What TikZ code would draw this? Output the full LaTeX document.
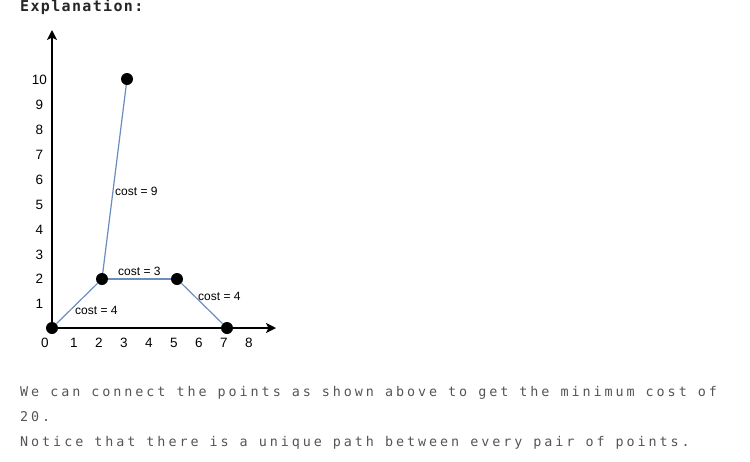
\documentclass[tikz,border=0pt]{standalone}
\usepackage{fontspec}
\setmainfont{Liberation Sans}
\newfontfamily\codefont[LetterSpace=22]{DejaVu Sans Mono}
\newfontfamily\headfont[LetterSpace=9]{DejaVu Sans Mono}
\usetikzlibrary{arrows.meta}
\definecolor{edgeblue}{HTML}{6C8EBF}
\definecolor{codegrey}{HTML}{555555}
\definecolor{headdark}{HTML}{262626}
\tikzset{
  dot/.style={circle,fill=black,draw=none,minimum size=12pt,inner sep=0pt},
  axis/.style={line width=1.4pt,-{Stealth[length=10pt,width=10pt,inset=2.5pt]}},
  edge/.style={edgeblue,line width=1.2pt},
  tick/.style={inner sep=0pt,font=\fontsize{13.5}{16}\selectfont},
  costlbl/.style={inner sep=0pt,anchor=base west,font=\fontsize{12}{14}\selectfont},
  codeline/.style={inner sep=0pt,anchor=base west,text=codegrey,font=\codefont\fontsize{13.4}{15}\selectfont},
  headline/.style={inner sep=0pt,anchor=base west,text=headdark,font=\headfont\bfseries\fontsize{15}{17}\selectfont}
}
\begin{document}
\begin{tikzpicture}[x=1pt,y=-1pt]
\useasboundingbox (0,0) rectangle (750,461);
% header
\node[headline] (head) at (20,11.5) {Explanation:};
% axes
\coordinate (orig) at (52,328);
\coordinate (ytip) at (52,30);
\coordinate (xtip) at (276,328);
\draw[axis] (orig) -- (ytip);
\draw[axis] (orig) -- (xtip);
% y tick labels
\foreach \v/\yy in {10/80,9/105,8/130,7/155,6/180,5/205,4/230,3/255,2/279,1/304}{
  \node[tick] (yl\v) at (39.5,\yy) {\v};
}
% x tick labels
\foreach \v/\xx in {0/45,1/74,2/99,3/124,4/149,5/174,6/199,7/224,8/249}{
  \node[tick,anchor=base] (xl\v) at (\xx,347) {\v};
}
% points
\node[dot] (p0) at (52,328) {};
\node[dot] (p1) at (102,279) {};
\node[dot] (p2) at (177,279) {};
\node[dot] (p3) at (227,328) {};
\node[dot] (p4) at (127,79) {};
% edges
\draw[edge] (p0) -- (p1);
\draw[edge] (p1) -- (p2);
\draw[edge] (p2) -- (p3);
\draw[edge] (p1) -- (p4);
% cost labels
\node[costlbl] (c9) at (115,195) {cost = 9};
\node[costlbl] (c3) at (118,275) {cost = 3};
\node[costlbl] (c4a) at (75,314) {cost = 4};
\node[costlbl] (c4b) at (198,300) {cost = 4};
% explanation text
\node[codeline] (t1) at (20,396) {We can connect the points as shown above to get the minimum cost of};
\node[codeline] (t2) at (20,421) {20.};
\node[codeline] (t3) at (20,446) {Notice that there is a unique path between every pair of points.};
\end{tikzpicture}
\end{document}
